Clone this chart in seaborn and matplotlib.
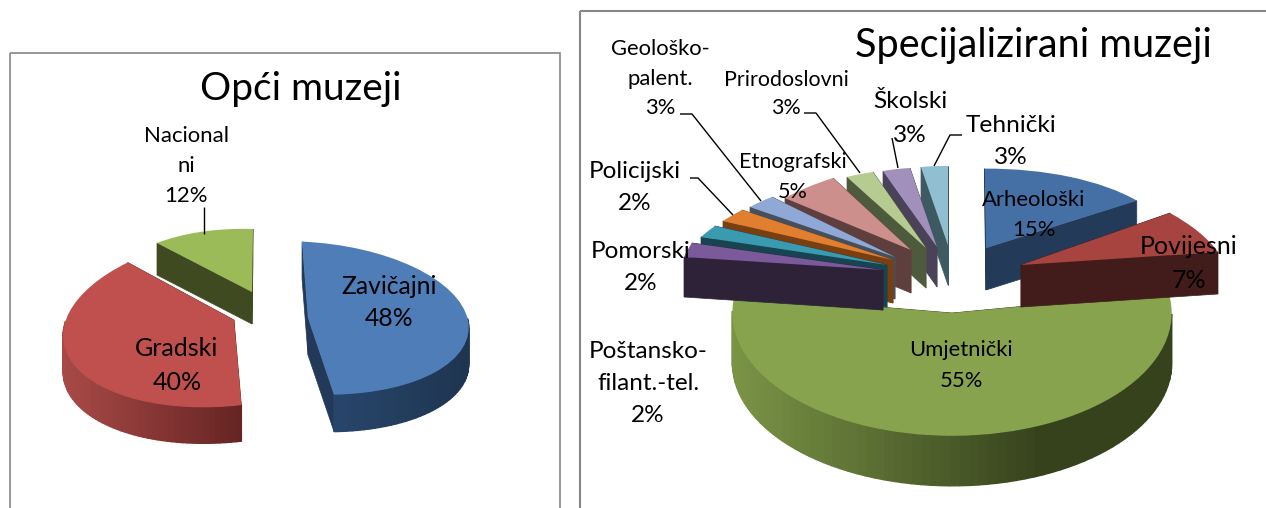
import numpy as np
import matplotlib
matplotlib.use("Agg")
import matplotlib.pyplot as plt
from matplotlib.patches import Polygon, Rectangle
from matplotlib.transforms import Affine2D
import seaborn as sns

sns.set_theme(style="white")
plt.rcParams['font.family'] = ['Lato', 'DejaVu Sans']

# --- data ---
opci_names = ["Zavičajni", "Gradski", "Nacionalni"]
opci_values = [48, 40, 12]
spec_names = ["Arheološki", "Povijesni", "Umjetnički", "Poštansko-filant.-tel.", "Pomorski",
              "Policijski", "Geološko-palent.", "Etnografski", "Prirodoslovni", "Školski", "Tehnički"]
spec_values = [15, 7, 55, 2, 2, 2, 3, 5, 3, 3, 3]

# --- styles ---
opci_colors = ["#4F7DB8", "#C0504D", "#9BBB59"]
spec_colors = ["#4470A5", "#A8443F", "#87A34E", "#7A5A9A", "#3A9AB0", "#DF7F2F",
               "#8FA8D5", "#CC8F8C", "#B5CB8F", "#A290BC", "#8FBFD0"]
# placement of each slice: apex, depth, arc anchors (fraction along the arc, x, y), side shade L/R, face colour
opci_layout = [
    dict(tip=(308, 318), depth=37, arc=[(0, 301, 242), (.5, 468, 320), (1, 333, 395)], side=("#2A4A72", "#1E3450"), face="#22395A"),
    dict(tip=(234, 320), depth=36, arc=[(0, 246, 407), (.675, 60, 327), (1, 134, 265)], side=("#A84A47", "#652422"), face="#652422"),
    dict(tip=(252, 292), depth=32, arc=[(0, 157, 243), (1, 253, 229)], side=("#3F4A20", "#3F4A20"), face="#3F4A20"),
]
spec_layout = [
    dict(tip=(986, 248), depth=42, arc=[(0, 983, 168), (.5, 1073, 178), (1, 1135, 200)], side=("#233A58", "#233A58"), face="#233A58"),
    dict(tip=(1021, 265), depth=42, arc=[(0, 1170, 213), (1, 1218, 252)], side=("#421C1A", "#421C1A"), face="#421C1A"),
    dict(tip=(952, 313), depth=50, arc=[(0, 1168, 297), (.055, 1178, 327), (.5, 955, 437), (.964, 733, 323), (1, 740, 298)],
         side=("#7A9446", "#36421C"), face="#36421C", knee=.7),
    dict(tip=(883, 270), depth=40, arc=[(0, 684, 257), (1, 692, 243)], side=("#2E2238", "#2E2238"), face="#2E2238"),
    dict(tip=(887, 265), depth=42, arc=[(0, 701, 237), (1, 715, 226)], side=("#174450", "#174450"), face="#174450"),
    dict(tip=(893, 260), depth=43, arc=[(0, 723, 221), (1, 742, 210)], side=("#7A3F10", "#7A3F10"), face="#7A3F10"),
    dict(tip=(895, 257), depth=42, arc=[(0, 750, 207), (1, 772, 197)], side=("#44505F", "#44505F"), face="#44505F"),
    dict(tip=(911, 250), depth=43, arc=[(0, 785, 198), (1, 833, 178)], side=("#5E3F3E", "#5E3F3E"), face="#5E3F3E"),
    dict(tip=(926, 248), depth=40, arc=[(0, 847, 177), (1, 873, 172)], side=("#4E5A3C", "#4E5A3C"), face="#4E5A3C"),
    dict(tip=(937, 247), depth=40, arc=[(0, 883, 171), (1, 910, 168)], side=("#4A4258", "#4A4258"), face="#4A4258"),
    dict(tip=(948, 245), depth=40, arc=[(0, 921, 167), (1, 948, 166)], side=("#3D5A62", "#3D5A62"), face="#3D5A62"),
]
opci_order = [2, 1, 0]
spec_order = [2, 10, 9, 8, 7, 6, 5, 4, 3, 0, 1]

W, H = 1266, 508
fig = plt.figure(figsize=(W / 100, H / 100), dpi=100, facecolor="white")
ax = fig.add_axes([0, 0, 1, 1])


def fit(theta_start, theta_end, tip, arc):
    """Least-squares affine map of the unit circle onto the slice's anchors."""
    A, bx, by = [], [], []
    for f, x, y in arc:
        t = np.radians(theta_start + (theta_end - theta_start) * f)
        A.append([np.cos(t), np.sin(t)])
        bx.append(x - tip[0])
        by.append(y - tip[1])
    A = np.array(A)
    a, b = np.linalg.lstsq(A, np.array(bx), rcond=None)[0]
    c, d = np.linalg.lstsq(A, np.array(by), rcond=None)[0]
    return np.array([[a, b, tip[0]], [c, d, tip[1]], [0, 0, 1]])


def draw_pie(values, colors, layout, order):
    wedges, _ = ax.pie(values, colors=colors, startangle=90, counterclock=False,
                       wedgeprops=dict(linewidth=0))
    for rank, i in enumerate(order):
        w, lay = wedges[i], layout[i]
        z = 2 + rank
        M = fit(w.theta2, w.theta1, lay["tip"], lay["arc"])
        w.set_transform(Affine2D(M) + ax.transData)
        w.set_zorder(z + .5)
        dep = lay["depth"]
        ts = np.radians(np.linspace(w.theta2, w.theta1, 80))
        pts = (M @ np.vstack([np.cos(ts), np.sin(ts), np.ones_like(ts)]))[:2].T
        tip = np.array(lay["tip"], float)
        down = np.array([0, dep], float)
        for end in (pts[0], pts[-1]):
            ax.add_patch(Polygon([tip, end, end + down, tip + down], closed=True,
                                 fc=lay["face"], ec=lay["face"], lw=.5, zorder=z))
        xmin, xmax = pts[:, 0].min(), pts[:, 0].max()
        cl, cr = map(np.array, map(matplotlib.colors.to_rgb, lay["side"]))
        knee = lay.get("knee", 1)
        for k in range(len(pts) - 1):
            tm = (ts[k] + ts[k + 1]) / 2
            if M[1, 0] * np.cos(tm) + M[1, 1] * np.sin(tm) <= 0:
                continue
            p, q = pts[k], pts[k + 1]
            s = ((p[0] + q[0]) / 2 - xmin) / max(xmax - xmin, 1)
            col = cl + (cr - cl) * min(s / knee, 1)
            ax.add_patch(Polygon([p, q, q + down, p + down], closed=True,
                                 fc=col, ec=col, lw=1.0, zorder=z + .2))


draw_pie(opci_values, opci_colors, opci_layout, opci_order)
draw_pie(spec_values, spec_colors, spec_layout, spec_order)

ax.set_aspect("auto")
ax.set_position([0, 0, 1, 1])
ax.set_axis_off()

# chart frames
ax.add_patch(Rectangle((10, 53), 550, 480, fc="none", ec="#868686", lw=1.2, zorder=1))
ax.add_patch(Rectangle((580, 11), 720, 520, fc="none", ec="#868686", lw=1.5, zorder=1))

# titles
ax.text(301, 89, "Opći muzeji", fontsize=28, ha="center", va="center", color="black", zorder=30)
ax.text(1033, 46, "Specijalizirani muzeji", fontsize=28.6, ha="center", va="center", color="black", zorder=30)

# labels: text, x, y, size
labels = [
    ("Nacional", 186, 136, 15.9), ("ni", 186, 166, 15.9), ("12%", 186, 196, 15.9),
    ("Zavičajni", 389, 286, 17.8), ("48%", 389, 319, 17.8),
    ("Gradski", 177, 349, 18), ("40%", 177, 383, 18),
    ("Geološko-", 660, 49, 15.8), ("palent.", 660, 79, 15.8), ("3%", 660, 108, 15.8),
    ("Prirodoslovni", 786, 80, 15.4), ("3%", 786, 108, 15.4),
    ("Školski", 910, 102, 17.6), ("3%", 910, 136, 17.6),
    ("Tehnički", 1011, 125, 17.6), ("3%", 1011, 157, 17.6),
    ("Etnografski", 793, 162, 15.6), ("5%", 793, 192, 15.6),
    ("Policijski", 635, 171, 17.5), ("2%", 635, 204, 17.5),
    ("Pomorski", 641, 251, 17.5), ("2%", 641, 283, 17.5),
    ("Poštansko-", 648, 351, 17.5), ("filant.-tel.", 648, 383, 17.5), ("2%", 648, 416, 17.5),
    ("Arheološki", 1034, 200, 15.9), ("15%", 1034, 230, 15.9),
    ("Povijesni", 1189, 246, 18), ("7%", 1189, 280, 18),
    ("Umjetnički", 961, 350, 15.8), ("55%", 961, 381, 15.8),
]
for s, x, y, fs in labels:
    ax.text(x, y, s, fontsize=fs, ha="center", va="center", color="black", zorder=30)

# leader lines
leaders = [
    [(204, 207), (204, 234)],
    [(680, 114), (692, 114), (761, 201)],
    [(804, 113), (816, 113), (860, 173)],
    [(892, 138), (898, 168)],
    [(962, 135), (950, 135), (934, 166)],
    [(690, 178), (698, 178), (733, 215)],
]
for seg in leaders:
    xs, ys = zip(*seg)
    ax.plot(xs, ys, color="black", lw=1.0, zorder=29, solid_capstyle="butt")
ax.set_xlim(0, W)
ax.set_ylim(H, 0)

fig.savefig("out.png", dpi=100)
